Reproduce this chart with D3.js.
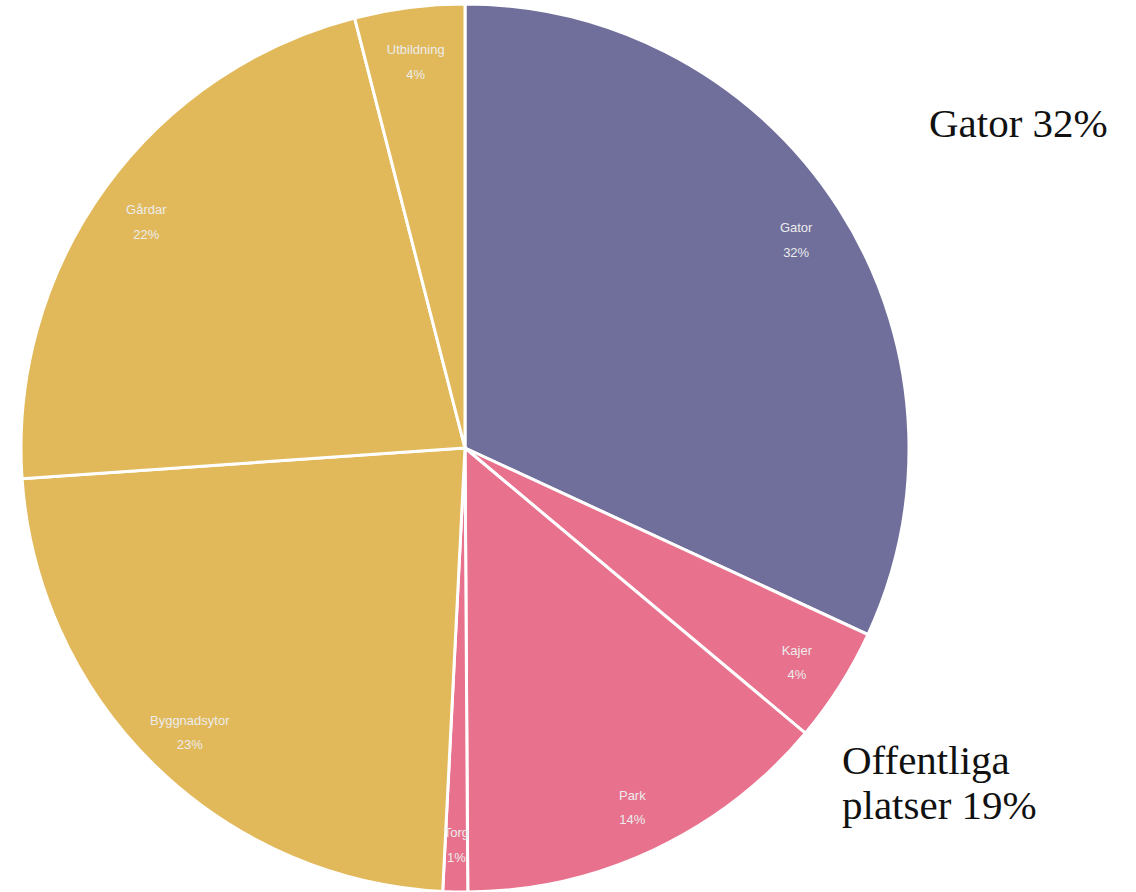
<!DOCTYPE html>
<html>
<head>
<meta charset="utf-8">
<script src="https://cdn.jsdelivr.net/npm/d3@7"></script>
<style>
  body { margin: 0; background: #fff; }
  svg { display: block; }
</style>
</head>
<body>
<div id="chart-area"></div>
<script>
// slices clockwise from 12 o'clock
const categories = ["Gator", "Kajer", "Park", "Torg", "Byggnadsytor", "Gårdar", "Utbildning"]
const shares = [31.9, 4.2, 13.8, 0.9, 23.1, 22.1, 4.0]
const pctLabels = ["32%", "4%", "14%", "1%", "23%", "22%", "4%"]
const groups = ["gata", "off", "off", "off", "kvarter", "kvarter", "kvarter"]

const calloutLines = [["Gator 32%"], ["Offentliga", "platser 19%"]]

const WIDTH = 1136
const HEIGHT = 892
const CX = 465, CY = 448, R = 444

const color = d3.scaleOrdinal()
    .domain(["gata", "off", "kvarter"])
    .range(["#706f9b", "#e8718d", "#e1b95a"])

const svg = d3.select("#chart-area").append("svg")
    .attr("width", WIDTH)
    .attr("height", HEIGHT)

const g = svg.append("g")
    .attr("transform", `translate(${CX}, ${CY})`)

const data = categories.map((c, i) => ({ name: c, value: shares[i], pct: pctLabels[i], group: groups[i] }))

const pie = d3.pie().sort(null).value(d => d.value)
const arc = d3.arc().innerRadius(0).outerRadius(R)
const labelArc = d3.arc().innerRadius(393).outerRadius(393)

const arcs = pie(data)

g.selectAll("path.slice").data(arcs).enter().append("path")
    .attr("class", "slice")
    .attr("d", arc)
    .attr("fill", d => color(d.data.group))
    .attr("stroke", "#fff")
    .attr("stroke-width", 3)

const labels = g.selectAll("text.lbl").data(arcs).enter().append("text")
    .attr("class", "lbl")
    .attr("transform", d => `translate(${labelArc.centroid(d)})`)
    .attr("text-anchor", "middle")
    .attr("font-family", "Liberation Sans, Arial, sans-serif")
    .attr("font-size", "13px")
    .attr("fill", "#ececec")

labels.append("tspan")
    .attr("x", 0).attr("dy", "-0.3em")
    .text(d => d.data.name)
labels.append("tspan")
    .attr("x", 0).attr("dy", "1.9em")
    .text(d => d.data.pct)

// callouts
svg.append("text")
    .attr("x", 929).attr("y", 137)
    .attr("font-family", "Liberation Serif, Times New Roman, serif")
    .attr("font-size", "41px")
    .attr("fill", "#111")
    .text(calloutLines[0][0])

const off = svg.append("text")
    .attr("x", 842).attr("y", 774)
    .attr("font-family", "Liberation Serif, Times New Roman, serif")
    .attr("font-size", "41px")
    .attr("fill", "#111")
off.selectAll("tspan").data(calloutLines[1]).enter().append("tspan")
    .attr("x", 842)
    .attr("dy", (d, i) => i === 0 ? 0 : 45)
    .text(d => d)
</script>
</body>
</html>
